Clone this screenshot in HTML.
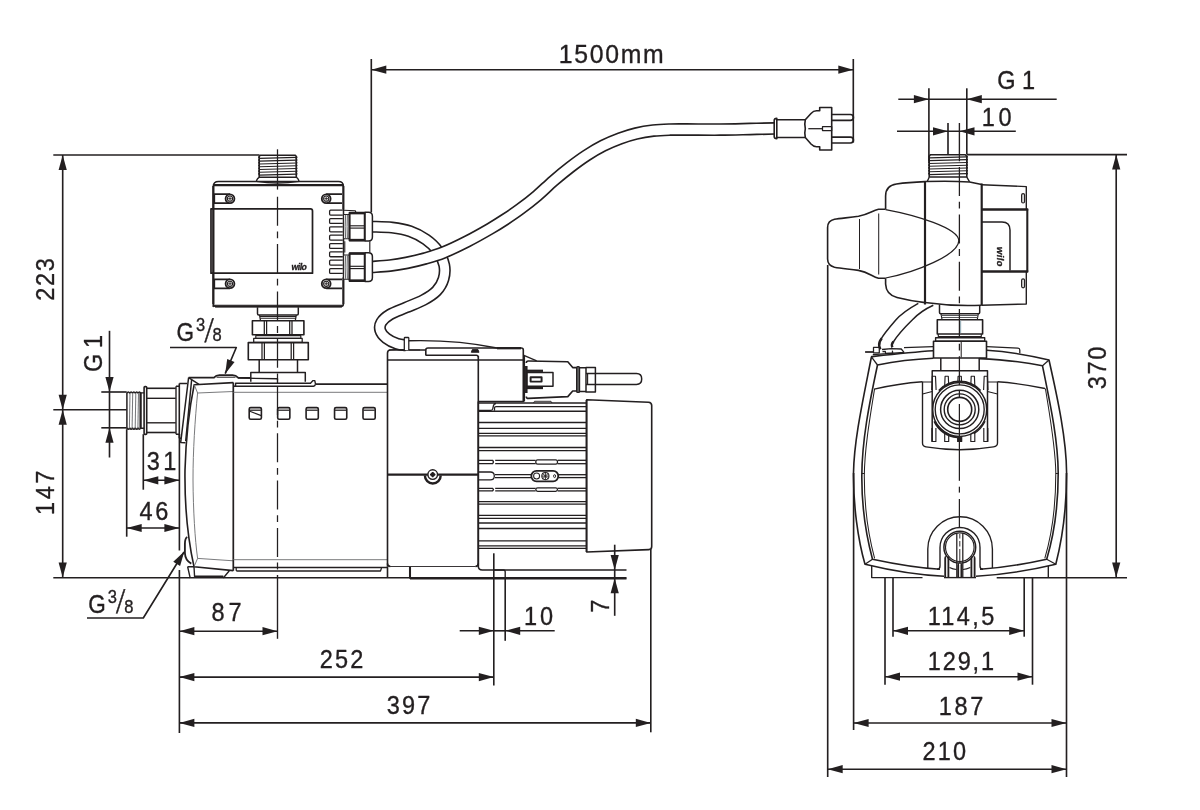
<!DOCTYPE html>
<html lang="en">
<head>
<meta charset="utf-8">
<title>Dimension drawing</title>
<style>
html,body{margin:0;padding:0;background:#fff;}
body{width:1200px;height:810px;overflow:hidden;}
svg{display:block;will-change:transform;}
.t{font-family:"Liberation Sans", sans-serif;fill:#231f20;}
.logo2{font-family:"Liberation Sans",sans-serif;font-weight:bold;font-style:italic;fill:#231f20;stroke:#231f20;stroke-width:0.35;}
.logo{font-family:"Liberation Sans",sans-serif;font-weight:bold;font-style:italic;fill:#231f20;}
</style>
</head>
<body>
<svg width="1200" height="810" viewBox="0 0 1200 810" stroke-linecap="butt" stroke-linejoin="round">
<rect x="0" y="0" width="1200" height="810" fill="#fff"/>
<line x1="371.30" y1="59.00" x2="371.30" y2="212.30" stroke="#231f20" stroke-width="1.63" />
<line x1="853.30" y1="59.00" x2="853.30" y2="142.50" stroke="#231f20" stroke-width="1.63" />
<line x1="371.30" y1="69.70" x2="853.30" y2="69.70" stroke="#231f20" stroke-width="1.63" />
<polygon points="371.30,69.70 386.30,65.60 386.30,73.80" fill="#231f20"/>
<polygon points="853.30,69.70 838.30,65.60 838.30,73.80" fill="#231f20"/>
<line x1="53.30" y1="155.00" x2="259.50" y2="155.00" stroke="#231f20" stroke-width="1.63" />
<line x1="62.70" y1="155.00" x2="62.70" y2="577.50" stroke="#231f20" stroke-width="1.63" />
<polygon points="62.70,155.00 58.60,170.00 66.80,170.00" fill="#231f20"/>
<polygon points="62.70,409.70 58.60,394.70 66.80,394.70" fill="#231f20"/>
<polygon points="62.70,409.70 58.60,424.70 66.80,424.70" fill="#231f20"/>
<polygon points="62.70,577.60 58.60,562.60 66.80,562.60" fill="#231f20"/>
<line x1="53.30" y1="409.70" x2="126.70" y2="409.70" stroke="#231f20" stroke-width="1.63" />
<line x1="53.30" y1="577.80" x2="626.50" y2="577.80" stroke="#231f20" stroke-width="1.61" />
<line x1="109.50" y1="330.80" x2="109.50" y2="457.50" stroke="#231f20" stroke-width="1.63" />
<line x1="101.30" y1="392.00" x2="126.70" y2="392.00" stroke="#231f20" stroke-width="1.63" />
<line x1="101.30" y1="427.80" x2="126.70" y2="427.80" stroke="#231f20" stroke-width="1.63" />
<polygon points="109.50,392.00 105.40,377.00 113.60,377.00" fill="#231f20"/>
<polygon points="109.50,427.80 105.40,442.80 113.60,442.80" fill="#231f20"/>
<line x1="143.30" y1="434.20" x2="143.30" y2="489.70" stroke="#231f20" stroke-width="1.63" />
<line x1="179.40" y1="434.00" x2="179.40" y2="550.50" stroke="#231f20" stroke-width="1.63" />
<line x1="179.40" y1="570.00" x2="179.40" y2="733.00" stroke="#231f20" stroke-width="1.63" />
<line x1="126.70" y1="429.20" x2="126.70" y2="536.70" stroke="#231f20" stroke-width="1.63" />
<line x1="143.30" y1="480.30" x2="179.40" y2="480.30" stroke="#231f20" stroke-width="1.63" />
<polygon points="143.30,480.30 158.30,476.20 158.30,484.40" fill="#231f20"/>
<polygon points="179.40,480.30 164.40,476.20 164.40,484.40" fill="#231f20"/>
<line x1="126.70" y1="528.00" x2="179.40" y2="528.00" stroke="#231f20" stroke-width="1.63" />
<polygon points="126.70,528.00 141.70,523.90 141.70,532.10" fill="#231f20"/>
<polygon points="179.40,528.00 164.40,523.90 164.40,532.10" fill="#231f20"/>
<path d="M170,347.5 L236.3,347.5 L225.2,373.6" stroke="#231f20" stroke-width="1.63" fill="none" />
<polygon points="225.20,373.80 227.19,358.89 234.56,362.02" fill="#231f20"/>
<path d="M87,618 L143.3,618 L184,552" stroke="#231f20" stroke-width="1.63" fill="none" />
<polygon points="184.30,551.50 180.09,565.94 173.28,561.74" fill="#231f20"/>
<line x1="179.40" y1="631.20" x2="277.50" y2="631.20" stroke="#231f20" stroke-width="1.63" />
<polygon points="179.40,631.20 194.40,627.10 194.40,635.30" fill="#231f20"/>
<polygon points="277.50,631.20 262.50,627.10 262.50,635.30" fill="#231f20"/>
<line x1="179.40" y1="677.10" x2="493.80" y2="677.10" stroke="#231f20" stroke-width="1.63" />
<polygon points="179.40,677.10 194.40,673.00 194.40,681.20" fill="#231f20"/>
<polygon points="493.80,677.10 478.80,673.00 478.80,681.20" fill="#231f20"/>
<line x1="179.40" y1="722.90" x2="650.80" y2="722.90" stroke="#231f20" stroke-width="1.63" />
<polygon points="179.40,722.90 194.40,718.80 194.40,727.00" fill="#231f20"/>
<polygon points="650.80,722.90 635.80,718.80 635.80,727.00" fill="#231f20"/>
<line x1="493.80" y1="553.30" x2="493.80" y2="685.50" stroke="#231f20" stroke-width="1.63" />
<line x1="505.20" y1="578.00" x2="505.20" y2="640.80" stroke="#231f20" stroke-width="1.63" />
<line x1="650.80" y1="549.00" x2="650.80" y2="732.30" stroke="#231f20" stroke-width="1.63" />
<line x1="459.70" y1="630.80" x2="493.80" y2="630.80" stroke="#231f20" stroke-width="1.63" />
<polygon points="493.80,630.80 478.80,626.70 478.80,634.90" fill="#231f20"/>
<line x1="505.20" y1="630.80" x2="554.70" y2="630.80" stroke="#231f20" stroke-width="1.63" />
<polygon points="505.20,630.80 520.20,626.70 520.20,634.90" fill="#231f20"/>
<line x1="493.80" y1="630.80" x2="505.20" y2="630.80" stroke="#231f20" stroke-width="1.63" />
<line x1="614.70" y1="544.70" x2="614.70" y2="570.00" stroke="#231f20" stroke-width="1.63" />
<line x1="614.70" y1="578.30" x2="614.70" y2="615.80" stroke="#231f20" stroke-width="1.63" />
<polygon points="614.70,570.00 610.60,555.00 618.80,555.00" fill="#231f20"/>
<polygon points="614.70,578.30 610.60,593.30 618.80,593.30" fill="#231f20"/>
<line x1="614.70" y1="570.00" x2="614.70" y2="578.30" stroke="#231f20" stroke-width="1.63" />
<line x1="928.90" y1="88.30" x2="928.90" y2="161.70" stroke="#231f20" stroke-width="1.63" />
<line x1="966.80" y1="88.30" x2="966.80" y2="154.50" stroke="#231f20" stroke-width="1.63" />
<line x1="898.30" y1="99.20" x2="1056.70" y2="99.20" stroke="#231f20" stroke-width="1.63" />
<polygon points="928.90,99.20 913.90,95.10 913.90,103.30" fill="#231f20"/>
<polygon points="966.80,99.20 981.80,95.10 981.80,103.30" fill="#231f20"/>
<line x1="948.00" y1="123.00" x2="948.00" y2="154.70" stroke="#231f20" stroke-width="1.63" />
<line x1="897.00" y1="131.30" x2="1015.80" y2="131.30" stroke="#231f20" stroke-width="1.63" />
<polygon points="948.00,131.30 933.00,127.20 933.00,135.40" fill="#231f20"/>
<polygon points="959.50,131.30 974.50,127.20 974.50,135.40" fill="#231f20"/>
<line x1="966.80" y1="154.60" x2="1127.00" y2="154.60" stroke="#231f20" stroke-width="1.63" />
<line x1="1116.20" y1="154.60" x2="1116.20" y2="577.60" stroke="#231f20" stroke-width="1.63" />
<polygon points="1116.20,154.60 1112.10,169.60 1120.30,169.60" fill="#231f20"/>
<polygon points="1116.20,577.60 1112.10,562.60 1120.30,562.60" fill="#231f20"/>
<line x1="996.70" y1="577.80" x2="1127.00" y2="577.80" stroke="#231f20" stroke-width="1.49" />
<line x1="827.70" y1="265.00" x2="827.70" y2="777.00" stroke="#231f20" stroke-width="1.63" />
<line x1="1066.50" y1="473.00" x2="1066.50" y2="777.00" stroke="#231f20" stroke-width="1.63" />
<line x1="853.60" y1="473.00" x2="853.60" y2="730.00" stroke="#231f20" stroke-width="1.63" />
<line x1="885.00" y1="577.60" x2="885.00" y2="684.70" stroke="#231f20" stroke-width="1.63" />
<line x1="1032.50" y1="577.60" x2="1032.50" y2="684.70" stroke="#231f20" stroke-width="1.63" />
<line x1="893.00" y1="577.60" x2="893.00" y2="636.70" stroke="#231f20" stroke-width="1.63" />
<line x1="1024.20" y1="577.60" x2="1024.20" y2="636.70" stroke="#231f20" stroke-width="1.63" />
<line x1="893.00" y1="630.80" x2="1024.20" y2="630.80" stroke="#231f20" stroke-width="1.63" />
<polygon points="893.00,630.80 908.00,626.70 908.00,634.90" fill="#231f20"/>
<polygon points="1024.20,630.80 1009.20,626.70 1009.20,634.90" fill="#231f20"/>
<line x1="885.00" y1="676.70" x2="1032.50" y2="676.70" stroke="#231f20" stroke-width="1.63" />
<polygon points="885.00,676.70 900.00,672.60 900.00,680.80" fill="#231f20"/>
<polygon points="1032.50,676.70 1017.50,672.60 1017.50,680.80" fill="#231f20"/>
<line x1="853.60" y1="723.00" x2="1066.50" y2="723.00" stroke="#231f20" stroke-width="1.63" />
<polygon points="853.60,723.00 868.60,718.90 868.60,727.10" fill="#231f20"/>
<polygon points="1066.50,723.00 1051.50,718.90 1051.50,727.10" fill="#231f20"/>
<line x1="827.70" y1="769.20" x2="1066.50" y2="769.20" stroke="#231f20" stroke-width="1.63" />
<polygon points="827.70,769.20 842.70,765.10 842.70,773.30" fill="#231f20"/>
<polygon points="1066.50,769.20 1051.50,765.10 1051.50,773.30" fill="#231f20"/>
<path d="M372.30,226.70 C375.58,226.85 385.72,226.83 392.00,227.60 C398.28,228.37 404.33,229.32 410.00,231.30 C415.67,233.28 421.42,236.30 426.00,239.50 C430.58,242.70 434.47,246.25 437.50,250.50 C440.53,254.75 443.20,260.25 444.20,265.00 C445.20,269.75 444.78,274.67 443.50,279.00 C442.22,283.33 439.83,287.50 436.50,291.00 C433.17,294.50 428.58,297.25 423.50,300.00 C418.42,302.75 411.58,305.08 406.00,307.50 C400.42,309.92 394.12,312.03 390.00,314.50 C385.88,316.97 382.92,319.63 381.30,322.30 C379.68,324.97 379.47,327.83 380.30,330.50 C381.13,333.17 383.52,336.08 386.30,338.30 C389.08,340.52 393.63,342.63 397.00,343.80 C400.37,344.97 404.92,345.05 406.50,345.30" stroke="#231f20" stroke-width="12.10" fill="none" stroke-linecap="butt"/>
<path d="M372.30,226.70 C375.58,226.85 385.72,226.83 392.00,227.60 C398.28,228.37 404.33,229.32 410.00,231.30 C415.67,233.28 421.42,236.30 426.00,239.50 C430.58,242.70 434.47,246.25 437.50,250.50 C440.53,254.75 443.20,260.25 444.20,265.00 C445.20,269.75 444.78,274.67 443.50,279.00 C442.22,283.33 439.83,287.50 436.50,291.00 C433.17,294.50 428.58,297.25 423.50,300.00 C418.42,302.75 411.58,305.08 406.00,307.50 C400.42,309.92 394.12,312.03 390.00,314.50 C385.88,316.97 382.92,319.63 381.30,322.30 C379.68,324.97 379.47,327.83 380.30,330.50 C381.13,333.17 383.52,336.08 386.30,338.30 C389.08,340.52 393.63,342.63 397.00,343.80 C400.37,344.97 404.92,345.05 406.50,345.30" stroke="#fff" stroke-width="8.90" fill="none" stroke-linecap="butt"/>
<path d="M372.30,266.90 C375.25,266.68 384.27,266.27 390.00,265.60 C395.73,264.93 400.87,264.08 406.70,262.90 C412.53,261.72 418.87,260.23 425.00,258.50 C431.13,256.77 436.50,255.33 443.50,252.50 C450.50,249.67 459.25,245.45 467.00,241.50 C474.75,237.55 483.67,232.47 490.00,228.80 C496.33,225.13 500.00,222.77 505.00,219.50 C510.00,216.23 514.67,213.15 520.00,209.20 C525.33,205.25 531.45,200.50 537.00,195.80 C542.55,191.10 547.80,185.75 553.30,181.00 C558.80,176.25 564.43,171.58 570.00,167.30 C575.57,163.02 581.20,158.88 586.70,155.30 C592.20,151.72 597.45,148.60 603.00,145.80 C608.55,143.00 614.50,140.53 620.00,138.50 C625.50,136.47 630.45,134.92 636.00,133.60 C641.55,132.28 647.63,131.27 653.30,130.60 C658.97,129.93 664.43,129.78 670.00,129.60 C675.57,129.42 678.37,129.50 686.70,129.50 C695.03,129.50 709.45,129.68 720.00,129.60 C730.55,129.52 740.92,129.20 750.00,129.00 C759.08,128.80 770.42,128.50 774.50,128.40" stroke="#231f20" stroke-width="12.85" fill="none" stroke-linecap="butt"/>
<path d="M372.30,266.90 C375.25,266.68 384.27,266.27 390.00,265.60 C395.73,264.93 400.87,264.08 406.70,262.90 C412.53,261.72 418.87,260.23 425.00,258.50 C431.13,256.77 436.50,255.33 443.50,252.50 C450.50,249.67 459.25,245.45 467.00,241.50 C474.75,237.55 483.67,232.47 490.00,228.80 C496.33,225.13 500.00,222.77 505.00,219.50 C510.00,216.23 514.67,213.15 520.00,209.20 C525.33,205.25 531.45,200.50 537.00,195.80 C542.55,191.10 547.80,185.75 553.30,181.00 C558.80,176.25 564.43,171.58 570.00,167.30 C575.57,163.02 581.20,158.88 586.70,155.30 C592.20,151.72 597.45,148.60 603.00,145.80 C608.55,143.00 614.50,140.53 620.00,138.50 C625.50,136.47 630.45,134.92 636.00,133.60 C641.55,132.28 647.63,131.27 653.30,130.60 C658.97,129.93 664.43,129.78 670.00,129.60 C675.57,129.42 678.37,129.50 686.70,129.50 C695.03,129.50 709.45,129.68 720.00,129.60 C730.55,129.52 740.92,129.20 750.00,129.00 C759.08,128.80 770.42,128.50 774.50,128.40" stroke="#fff" stroke-width="9.55" fill="none" stroke-linecap="butt"/>
<path d="M260.20,155.30 L295.30,155.30 L296.30,156.50 L296.30,177.20 L259.20,177.20 L259.20,156.50 Z" stroke="#231f20" stroke-width="1.61" fill="none" />
<line x1="259.40" y1="158.40" x2="296.30" y2="157.40" stroke="#231f20" stroke-width="1.15" />
<line x1="259.40" y1="161.18" x2="296.30" y2="160.18" stroke="#231f20" stroke-width="1.15" />
<line x1="259.40" y1="163.96" x2="296.30" y2="162.96" stroke="#231f20" stroke-width="1.15" />
<line x1="259.40" y1="166.74" x2="296.30" y2="165.74" stroke="#231f20" stroke-width="1.15" />
<line x1="259.40" y1="169.52" x2="296.30" y2="168.52" stroke="#231f20" stroke-width="1.15" />
<line x1="259.40" y1="172.30" x2="296.30" y2="171.30" stroke="#231f20" stroke-width="1.15" />
<line x1="259.40" y1="175.08" x2="296.30" y2="174.08" stroke="#231f20" stroke-width="1.15" />
<path d="M259.3,156.5 L258.6,157.20 L259.6,158.60 L258.6,159.98 L259.6,161.38 L258.6,162.76 L259.6,164.16 L258.6,165.54 L259.6,166.94 L258.6,168.32 L259.6,169.72 L258.6,171.10 L259.6,172.50 L258.6,173.88 L259.6,175.28" stroke="#231f20" stroke-width="1.03" fill="none" />
<path d="M296.3,156.5 L297,157.20 L296,158.60 L297,159.98 L296,161.38 L297,162.76 L296,164.16 L297,165.54 L296,166.94 L297,168.32 L296,169.72 L297,171.10 L296,172.50 L297,173.88 L296,175.28" stroke="#231f20" stroke-width="1.03" fill="none" />
<path d="M259.4,177.3 L257.6,178.6 Q256.6,180 256.4,181.4 Q277.5,184.6 299,181.4 Q298.8,180 297.8,178.6 L296.3,177.3" stroke="#231f20" stroke-width="1.38" fill="none" />
<path d="M213.2,306.6 L213.2,186.5 Q213.4,181.6 218.5,181.6 L338.5,181.6 Q343.4,181.6 343.5,186.5 L343.5,303.5 Q343.5,306.6 340.5,306.6 L216.2,306.6 Q213.2,306.6 213.2,303.5 Z" stroke="#231f20" stroke-width="1.49" fill="none" />
<line x1="213.40" y1="186.00" x2="213.40" y2="304.00" stroke="#231f20" stroke-width="2.18" />
<line x1="343.30" y1="186.00" x2="343.30" y2="209.50" stroke="#231f20" stroke-width="1.95" />
<line x1="343.30" y1="277.50" x2="343.30" y2="304.00" stroke="#231f20" stroke-width="1.95" />
<line x1="215.00" y1="306.50" x2="342.00" y2="306.50" stroke="#231f20" stroke-width="1.95" />
<line x1="213.50" y1="185.20" x2="343.30" y2="185.20" stroke="#231f20" stroke-width="2.30" />
<line x1="213.50" y1="305.20" x2="342.80" y2="305.20" stroke="#231f20" stroke-width="1.15" />
<path d="M312.5,273.2 L211,273.2 L211,208.9 L310.5,208.9 Q312.5,208.9 312.5,211 Z" stroke="#231f20" stroke-width="1.72" fill="none" />
<path d="M230,194.2 L214.3,194.2 L214.3,203.2 L230,203.2" stroke="#231f20" stroke-width="1.72" fill="none" />
<circle cx="230.00" cy="198.70" r="4.40" stroke="#231f20" stroke-width="1.84" fill="#fff"/>
<circle cx="230.00" cy="198.70" r="2.60" stroke="#231f20" stroke-width="1.03" fill="none"/>
<line x1="228.20" y1="198.70" x2="231.80" y2="198.70" stroke="#231f20" stroke-width="0.92" />
<line x1="230.00" y1="196.90" x2="230.00" y2="200.50" stroke="#231f20" stroke-width="0.92" />
<path d="M326.2,194.2 L342,194.2 M326.2,203.2 L342,203.2" stroke="#231f20" stroke-width="1.72" fill="none" />
<circle cx="326.20" cy="198.70" r="4.40" stroke="#231f20" stroke-width="1.84" fill="#fff"/>
<circle cx="326.20" cy="198.70" r="2.60" stroke="#231f20" stroke-width="1.03" fill="none"/>
<line x1="324.40" y1="198.70" x2="328.00" y2="198.70" stroke="#231f20" stroke-width="0.92" />
<line x1="326.20" y1="196.90" x2="326.20" y2="200.50" stroke="#231f20" stroke-width="0.92" />
<path d="M230,279.3 L214.3,279.3 L214.3,288.3 L230,288.3" stroke="#231f20" stroke-width="1.72" fill="none" />
<circle cx="230.00" cy="283.80" r="4.40" stroke="#231f20" stroke-width="1.84" fill="#fff"/>
<circle cx="230.00" cy="283.80" r="2.60" stroke="#231f20" stroke-width="1.03" fill="none"/>
<line x1="228.20" y1="283.80" x2="231.80" y2="283.80" stroke="#231f20" stroke-width="0.92" />
<line x1="230.00" y1="282.00" x2="230.00" y2="285.60" stroke="#231f20" stroke-width="0.92" />
<path d="M326.2,279.3 L342,279.3 M326.2,288.3 L342,288.3" stroke="#231f20" stroke-width="1.72" fill="none" />
<circle cx="326.20" cy="283.80" r="4.40" stroke="#231f20" stroke-width="1.84" fill="#fff"/>
<circle cx="326.20" cy="283.80" r="2.60" stroke="#231f20" stroke-width="1.03" fill="none"/>
<line x1="324.40" y1="283.80" x2="328.00" y2="283.80" stroke="#231f20" stroke-width="0.92" />
<line x1="326.20" y1="282.00" x2="326.20" y2="285.60" stroke="#231f20" stroke-width="0.92" />
<path d="M342.8,210.20 L330.6,210.20 Q329.6,210.20 329.6,211.20 L329.6,214.10 Q329.6,215.10 330.6,215.10 L342.8,215.10" stroke="#231f20" stroke-width="1.26" fill="none" />
<path d="M342.8,218.53 L330.6,218.53 Q329.6,218.53 329.6,219.53 L329.6,222.43 Q329.6,223.43 330.6,223.43 L342.8,223.43" stroke="#231f20" stroke-width="1.26" fill="none" />
<path d="M342.8,226.86 L330.6,226.86 Q329.6,226.86 329.6,227.86 L329.6,230.76 Q329.6,231.76 330.6,231.76 L342.8,231.76" stroke="#231f20" stroke-width="1.26" fill="none" />
<path d="M342.8,235.19 L330.6,235.19 Q329.6,235.19 329.6,236.19 L329.6,239.09 Q329.6,240.09 330.6,240.09 L342.8,240.09" stroke="#231f20" stroke-width="1.26" fill="none" />
<path d="M342.8,243.52 L330.6,243.52 Q329.6,243.52 329.6,244.52 L329.6,247.42 Q329.6,248.42 330.6,248.42 L342.8,248.42" stroke="#231f20" stroke-width="1.26" fill="none" />
<path d="M342.8,251.85 L330.6,251.85 Q329.6,251.85 329.6,252.85 L329.6,255.75 Q329.6,256.75 330.6,256.75 L342.8,256.75" stroke="#231f20" stroke-width="1.26" fill="none" />
<path d="M342.8,260.18 L330.6,260.18 Q329.6,260.18 329.6,261.18 L329.6,264.08 Q329.6,265.08 330.6,265.08 L342.8,265.08" stroke="#231f20" stroke-width="1.26" fill="none" />
<path d="M342.8,268.51 L330.6,268.51 Q329.6,268.51 329.6,269.51 L329.6,272.41 Q329.6,273.41 330.6,273.41 L342.8,273.41" stroke="#231f20" stroke-width="1.26" fill="none" />
<text class="logo2" x="291.50" y="270.00" font-size="8.6" text-anchor="start" textLength="15.3" lengthAdjust="spacing" >wilo</text>
<rect x="343.60" y="214.40" width="5.60" height="24.40" rx="0" stroke="#231f20" stroke-width="1.03" fill="#fff" />
<path d="M345.6,214.79999999999998 Q344.8,226.6 345.6,238.39999999999998 M347.4,214.79999999999998 Q346.8,226.6 347.4,238.39999999999998" stroke="#58595b" stroke-width="0.92" fill="none" />
<path d="M364.7,212.2 L368.5,212.2 Q372.4,212.2 372.4,216.2 L372.4,237.0 Q372.4,241.0 368.5,241.0 L364.7,241.0" stroke="#231f20" stroke-width="1.49" fill="#fff" />
<rect x="349.50" y="212.40" width="15.20" height="28.40" rx="0" stroke="#231f20" stroke-width="1.49" fill="#fff" />
<line x1="349.40" y1="213.20" x2="365.20" y2="213.20" stroke="#231f20" stroke-width="2.30" />
<line x1="349.40" y1="240.00" x2="365.20" y2="240.00" stroke="#231f20" stroke-width="2.30" />
<line x1="350.00" y1="225.80" x2="364.50" y2="225.80" stroke="#231f20" stroke-width="1.15" />
<line x1="350.00" y1="228.10" x2="364.50" y2="228.10" stroke="#231f20" stroke-width="1.15" />
<line x1="364.70" y1="212.50" x2="364.70" y2="240.70" stroke="#231f20" stroke-width="1.84" />
<line x1="349.60" y1="212.50" x2="349.60" y2="240.70" stroke="#231f20" stroke-width="1.72" />
<rect x="343.60" y="254.90" width="5.60" height="24.40" rx="0" stroke="#231f20" stroke-width="1.03" fill="#fff" />
<path d="M345.6,255.29999999999998 Q344.8,267.09999999999997 345.6,278.9 M347.4,255.29999999999998 Q346.8,267.09999999999997 347.4,278.9" stroke="#58595b" stroke-width="0.92" fill="none" />
<path d="M364.7,252.7 L368.5,252.7 Q372.4,252.7 372.4,256.7 L372.4,277.5 Q372.4,281.5 368.5,281.5 L364.7,281.5" stroke="#231f20" stroke-width="1.49" fill="#fff" />
<rect x="349.50" y="252.90" width="15.20" height="28.40" rx="0" stroke="#231f20" stroke-width="1.49" fill="#fff" />
<line x1="349.40" y1="253.70" x2="365.20" y2="253.70" stroke="#231f20" stroke-width="2.30" />
<line x1="349.40" y1="280.50" x2="365.20" y2="280.50" stroke="#231f20" stroke-width="2.30" />
<line x1="350.00" y1="266.30" x2="364.50" y2="266.30" stroke="#231f20" stroke-width="1.15" />
<line x1="350.00" y1="268.60" x2="364.50" y2="268.60" stroke="#231f20" stroke-width="1.15" />
<line x1="364.70" y1="253.00" x2="364.70" y2="281.20" stroke="#231f20" stroke-width="1.84" />
<line x1="349.60" y1="253.00" x2="349.60" y2="281.20" stroke="#231f20" stroke-width="1.72" />
<path d="M343.8,210.3 L355.3,210.8 L355.8,212.3" stroke="#231f20" stroke-width="1.15" fill="none" />
<line x1="369.80" y1="241.20" x2="369.80" y2="252.50" stroke="#231f20" stroke-width="1.15" />
<line x1="344.80" y1="241.20" x2="344.80" y2="252.50" stroke="#231f20" stroke-width="1.03" />
<path d="M257.5,307.2 L257.5,313.8 Q257.5,315 258.8,315 L297,315 Q298.3,315 298.3,313.8 L298.3,307.2" stroke="#231f20" stroke-width="1.49" fill="none" />
<path d="M259.5,315 L260.5,320.6 M296.3,315 L295.3,320.6" stroke="#231f20" stroke-width="1.26" fill="none" />
<line x1="260.00" y1="316.60" x2="296.00" y2="316.60" stroke="#231f20" stroke-width="1.03" />
<line x1="260.30" y1="318.30" x2="295.70" y2="318.30" stroke="#231f20" stroke-width="1.03" />
<rect x="252.40" y="320.80" width="51.50" height="13.90" rx="0" stroke="#231f20" stroke-width="1.61" fill="none" />
<line x1="264.30" y1="321.00" x2="264.30" y2="334.50" stroke="#231f20" stroke-width="1.26" />
<line x1="266.60" y1="321.00" x2="266.60" y2="334.50" stroke="#231f20" stroke-width="1.26" />
<line x1="289.70" y1="321.00" x2="289.70" y2="334.50" stroke="#231f20" stroke-width="1.26" />
<line x1="292.00" y1="321.00" x2="292.00" y2="334.50" stroke="#231f20" stroke-width="1.26" />
<rect x="255.80" y="335.60" width="45.00" height="2.80" rx="0" stroke="#231f20" stroke-width="1.15" fill="none" />
<rect x="253.70" y="338.40" width="48.50" height="3.90" rx="0" stroke="#231f20" stroke-width="1.26" fill="none" />
<rect x="248.30" y="342.60" width="60.00" height="17.10" rx="0" stroke="#231f20" stroke-width="1.61" fill="none" />
<line x1="262.00" y1="343.00" x2="262.00" y2="359.50" stroke="#231f20" stroke-width="1.26" />
<line x1="264.40" y1="343.00" x2="264.40" y2="359.50" stroke="#231f20" stroke-width="1.26" />
<line x1="291.20" y1="343.00" x2="291.20" y2="359.50" stroke="#231f20" stroke-width="1.26" />
<line x1="293.60" y1="343.00" x2="293.60" y2="359.50" stroke="#231f20" stroke-width="1.26" />
<line x1="259.20" y1="359.70" x2="259.20" y2="372.30" stroke="#231f20" stroke-width="1.49" />
<line x1="297.50" y1="359.70" x2="297.50" y2="372.30" stroke="#231f20" stroke-width="1.49" />
<path d="M250.8,381.7 L250.8,372.5 L305.3,372.5 L305.3,381.7" stroke="#231f20" stroke-width="1.49" fill="none" />
<path d="M776.5,119.8 L805.3,119.8 M776.5,137.5 L805.3,137.5" stroke="#231f20" stroke-width="1.61" fill="none" />
<path d="M776.8,118.4 Q774.2,118.4 774.2,120.5 L774.2,136.6 Q774.2,138.8 776.8,138.8 Z" stroke="#231f20" stroke-width="1.61" fill="#fff" />
<path d="M805.3,119.8 L811,113.5 Q813.5,110.8 816.5,110.8 L819.7,110.8 L819.7,107.5 L831.7,107.5 L831.7,150 L819.7,150 L819.7,146.7 L816.5,146.7 Q813.5,146.7 811,144 L805.3,137.5 Q804.3,133 805.3,128.6 Q804.3,124 805.3,119.8" stroke="#231f20" stroke-width="1.61" fill="none" />
<path d="M831.7,114.5 L850.4,114.5 Q853.4,114.5 853.4,117.4 Q853.4,120.3 850.4,120.3 L831.7,120.3" stroke="#231f20" stroke-width="1.72" fill="none" />
<path d="M831.7,137.2 L850.4,137.2 Q853.4,137.2 853.4,140.1 Q853.4,143 850.4,143 L831.7,143" stroke="#231f20" stroke-width="1.72" fill="none" />
<line x1="808.30" y1="128.70" x2="822.50" y2="128.70" stroke="#231f20" stroke-width="1.26" />
<rect x="822.50" y="126.70" width="9.20" height="3.90" rx="0" stroke="#231f20" stroke-width="1.26" fill="none" />
<path d="M126.9,393.2 Q128.30,390.9 129.70,393.2 Q131.10,390.9 132.50,393.2 Q133.90,390.9 135.30,393.2 Q136.70,390.9 138.10,393.2 Q139.40,390.9 140.70,393.2" stroke="#231f20" stroke-width="1.49" fill="none" />
<path d="M126.9,428.0 Q128.30,430.3 129.70,428.0 Q131.10,430.3 132.50,428.0 Q133.90,430.3 135.30,428.0 Q136.70,430.3 138.10,428.0 Q139.40,430.3 140.70,428.0" stroke="#231f20" stroke-width="1.49" fill="none" />
<line x1="126.90" y1="392.70" x2="126.90" y2="428.50" stroke="#231f20" stroke-width="1.49" />
<line x1="140.60" y1="392.70" x2="140.60" y2="428.50" stroke="#231f20" stroke-width="2.30" />
<line x1="130.00" y1="393.00" x2="129.40" y2="428.20" stroke="#77787b" stroke-width="1.03" />
<line x1="132.70" y1="393.00" x2="132.10" y2="428.20" stroke="#77787b" stroke-width="1.03" />
<line x1="135.80" y1="393.00" x2="135.20" y2="428.20" stroke="#77787b" stroke-width="1.03" />
<line x1="138.50" y1="393.00" x2="137.90" y2="428.20" stroke="#77787b" stroke-width="1.03" />
<path d="M140.6,392.9 L144.1,392.9 M140.6,428.3 L144.1,428.3" stroke="#231f20" stroke-width="1.38" fill="none" />
<path d="M144.1,433.4 L144.1,387.6 Q144.1,386.6 145,386.6 L145.8,386.6 Q146.7,386.6 146.7,387.6 L146.7,433.4 Q146.7,434.4 145.8,434.4 L145,434.4 Q144.1,434.4 144.1,433.4 Z" stroke="#231f20" stroke-width="1.61" fill="none" />
<line x1="147.00" y1="388.30" x2="175.80" y2="388.30" stroke="#231f20" stroke-width="1.61" />
<line x1="147.00" y1="432.50" x2="175.80" y2="432.50" stroke="#231f20" stroke-width="1.61" />
<line x1="147.00" y1="398.30" x2="175.80" y2="398.30" stroke="#231f20" stroke-width="1.38" />
<line x1="147.00" y1="422.80" x2="175.80" y2="422.80" stroke="#231f20" stroke-width="1.38" />
<path d="M176,386.3 L179.2,386.3 M176,434.2 L179.2,434.2 M176,386.3 L176,434.2" stroke="#231f20" stroke-width="1.38" fill="none" />
<line x1="179.30" y1="383.50" x2="179.30" y2="438.30" stroke="#231f20" stroke-width="1.61" />
<path d="M179.3,383.5 L187,383.5 M179.3,438.3 L181.2,438.3" stroke="#231f20" stroke-width="1.38" fill="none" />
<path d="M188.6,377.6 L180.7,442.4 L185.4,442.8 M191.6,380 L185.7,441" stroke="#231f20" stroke-width="1.49" fill="none" />
<path d="M233.3,382.6 L194.2,384.7 C190,405 186,435 185,470 C184.6,500 187,535 194,566.7 L233.3,570.6" stroke="#231f20" stroke-width="1.61" fill="none" />
<path d="M233.3,391.5 L197.6,393 C195,420 193,450 193,480 C193.2,510 195,540 197.6,558.4 L233.3,560.8" stroke="#6d6e70" stroke-width="0.92" fill="none" />
<line x1="194.20" y1="384.70" x2="197.60" y2="393.00" stroke="#6d6e70" stroke-width="0.92" />
<line x1="194.00" y1="566.70" x2="197.60" y2="558.40" stroke="#6d6e70" stroke-width="0.92" />
<line x1="233.30" y1="382.50" x2="233.30" y2="570.80" stroke="#231f20" stroke-width="1.72" />
<path d="M188.6,377.6 L214,377.6 Q216,375.1 219.5,375.1 L232.5,375.1 Q236,375.1 238,377.6 L250.6,377.9" stroke="#231f20" stroke-width="1.72" fill="none" />
<path d="M216.5,377.2 L235.5,377.2" stroke="#231f20" stroke-width="1.03" fill="none" />
<path d="M188.6,377.6 L199,384.3 M238,378 L277.5,378.8 L277.5,383" stroke="#231f20" stroke-width="1.38" fill="none" />
<path d="M187.3,537 Q184.9,538.2 184.9,544 L184.9,553 Q185.2,560.5 191.3,563.6" stroke="#231f20" stroke-width="1.84" fill="none" />
<path d="M187.6,566.7 L190.2,578 M194,566.7 L194.6,577 M187.6,566.7 L194,566.7 M194.6,576.2 L223.3,576.2 M223.3,578 L229.3,570.8" stroke="#231f20" stroke-width="1.38" fill="none" />
<line x1="315.50" y1="384.10" x2="387.50" y2="384.10" stroke="#231f20" stroke-width="1.61" />
<line x1="233.30" y1="386.20" x2="236.00" y2="386.20" stroke="#231f20" stroke-width="1.61" />
<line x1="233.30" y1="392.30" x2="387.50" y2="392.30" stroke="#6d6e70" stroke-width="0.92" />
<line x1="233.30" y1="559.70" x2="387.50" y2="559.70" stroke="#6d6e70" stroke-width="0.92" />
<line x1="233.30" y1="567.50" x2="387.50" y2="567.50" stroke="#231f20" stroke-width="1.61" />
<path d="M236.2,567.5 L236.2,570.3 Q236.2,571 237.2,571 L380.5,571 L381.5,568" stroke="#231f20" stroke-width="1.26" fill="none" />
<path d="M315.5,384.2 L314.8,380.6 L313,380.6 L310.5,383.2 L235.6,383.2 L235.6,386.2 L313.5,386.2 Q315,386 315.5,384.2" stroke="#231f20" stroke-width="1.38" fill="none" />
<rect x="249.20" y="407.60" width="12.20" height="11.60" rx="1.5" stroke="#231f20" stroke-width="1.61" fill="none" />
<line x1="249.70" y1="410.20" x2="260.90" y2="410.20" stroke="#231f20" stroke-width="1.26" />
<rect x="277.65" y="407.60" width="12.20" height="11.60" rx="1.5" stroke="#231f20" stroke-width="1.61" fill="none" />
<line x1="278.15" y1="410.20" x2="289.35" y2="410.20" stroke="#231f20" stroke-width="1.26" />
<rect x="306.10" y="407.60" width="12.20" height="11.60" rx="1.5" stroke="#231f20" stroke-width="1.61" fill="none" />
<line x1="306.60" y1="410.20" x2="317.80" y2="410.20" stroke="#231f20" stroke-width="1.26" />
<rect x="334.55" y="407.60" width="12.20" height="11.60" rx="1.5" stroke="#231f20" stroke-width="1.61" fill="none" />
<line x1="335.05" y1="410.20" x2="346.25" y2="410.20" stroke="#231f20" stroke-width="1.26" />
<rect x="363.00" y="407.60" width="12.20" height="11.60" rx="1.5" stroke="#231f20" stroke-width="1.61" fill="none" />
<line x1="363.50" y1="410.20" x2="374.70" y2="410.20" stroke="#231f20" stroke-width="1.26" />
<line x1="249.80" y1="411.20" x2="261.20" y2="415.60" stroke="#231f20" stroke-width="1.15" />
<path d="M387.5,566.3 L387.5,353 Q387.5,350 390.5,350 L425.8,350" stroke="#231f20" stroke-width="1.61" fill="none" />
<line x1="387.50" y1="360.00" x2="478.30" y2="360.00" stroke="#231f20" stroke-width="1.49" />
<path d="M478.3,356 L478.3,563.5 Q478.3,566.4 475.5,566.4 M390.3,566.4 Q387.5,566.4 387.5,563.5" stroke="#231f20" stroke-width="1.61" fill="none" />
<line x1="390.00" y1="566.50" x2="475.80" y2="566.50" stroke="#3a3638" stroke-width="1.09" />
<line x1="387.50" y1="474.60" x2="478.30" y2="474.60" stroke="#231f20" stroke-width="2.30" />
<path d="M424.9,475.6 A7.9,7.9 0 0 0 440.7,475.6" stroke="#231f20" stroke-width="2.42" fill="none" />
<circle cx="432.70" cy="474.60" r="4.80" stroke="#231f20" stroke-width="1.38" fill="#fff"/>
<circle cx="432.70" cy="474.60" r="2.00" stroke="#231f20" stroke-width="0.69" fill="#231f20"/>
<line x1="430.00" y1="474.60" x2="435.40" y2="474.60" stroke="#231f20" stroke-width="1.38" />
<line x1="432.70" y1="471.90" x2="432.70" y2="477.30" stroke="#231f20" stroke-width="1.38" />
<path d="M387.5,566.3 L387.5,578 M478.3,563.5 L478.3,566 Q478.3,570 482.3,570 L626.5,570" stroke="#231f20" stroke-width="1.61" fill="none" />
<line x1="410.00" y1="567.00" x2="410.00" y2="578.60" stroke="#231f20" stroke-width="2.07" />
<line x1="410.00" y1="578.70" x2="626.50" y2="578.70" stroke="#231f20" stroke-width="1.72" />
<path d="M493.8,570 L503.5,570 Q505.2,570 505.2,572 L505.2,578" stroke="#231f20" stroke-width="1.38" fill="none" />
<path d="M425.8,355.4 L425.8,350 Q425.8,348 428,348 L521.3,348 Q523.3,348 523.3,350 L523.3,401.5 L478.3,401.5" stroke="#231f20" stroke-width="1.61" fill="none" />
<path d="M425.8,355.2 L476.3,355.2 Q478.3,355.2 478.3,357.2" stroke="#231f20" stroke-width="1.38" fill="none" />
<line x1="478.30" y1="360.00" x2="523.30" y2="360.00" stroke="#231f20" stroke-width="1.49" />
<line x1="497.00" y1="348.20" x2="521.00" y2="348.20" stroke="#231f20" stroke-width="2.30" />
<path d="M471.3,352.3 L472.3,349.6 L478,349.6 L479,352.3 Z" stroke="#231f20" stroke-width="0.92" fill="#231f20" />
<path d="M404.3,350 L404.3,338.2 Q404.3,337.5 405,337.5 L408,337.5 Q408.8,337.5 408.8,338.2 L408.8,350" stroke="#231f20" stroke-width="1.26" fill="#fff" />
<path d="M408.8,340.8 C440,340 470,342.5 497,348" stroke="#231f20" stroke-width="1.38" fill="none" />
<path d="M523.3,355.2 L536.7,360.8" stroke="#231f20" stroke-width="1.38" fill="none" />
<path d="M389,350 C396,349 402,349.8 404.3,350 M408.8,350 L420,350" stroke="#231f20" stroke-width="1.15" fill="none" />
<path d="M526.3,363 Q526.3,361 528.3,361 L567.8,361.8 L572.7,367.6 L576.5,367.6 M576.5,391 L572.7,391 L567.8,396.6 L528.3,398.4 Q526.3,398.4 526.3,396.4" stroke="#231f20" stroke-width="1.61" fill="none" />
<line x1="524.50" y1="356.00" x2="524.50" y2="401.50" stroke="#231f20" stroke-width="1.15" />
<rect x="576.70" y="366.60" width="2.80" height="25.80" rx="1" stroke="#231f20" stroke-width="1.38" fill="#6b6b6b" />
<path d="M579.5,367.7 L586,367.7 M579.5,391.5 L586,391.5" stroke="#231f20" stroke-width="1.38" fill="none" />
<rect x="586.00" y="367.60" width="9.40" height="24.40" rx="0" stroke="#231f20" stroke-width="1.49" fill="none" />
<line x1="587.60" y1="373.50" x2="587.60" y2="384.50" stroke="#231f20" stroke-width="1.15" />
<path d="M586,373.6 L636.5,373.6 Q641.7,373.6 641.7,379 Q641.7,384.4 636.5,384.4 L586,384.4" stroke="#231f20" stroke-width="1.49" fill="none" />
<rect x="526.80" y="372.50" width="26.20" height="13.80" rx="0" stroke="#231f20" stroke-width="1.49" fill="none" />
<rect x="530.60" y="377.20" width="11.00" height="4.40" rx="0" stroke="#231f20" stroke-width="1.95" fill="none" />
<line x1="526.50" y1="370.80" x2="543.00" y2="370.80" stroke="#231f20" stroke-width="2.30" />
<line x1="526.50" y1="388.00" x2="543.00" y2="388.00" stroke="#231f20" stroke-width="2.30" />
<line x1="526.30" y1="366.00" x2="526.30" y2="393.00" stroke="#231f20" stroke-width="2.53" />
<line x1="478.30" y1="401.50" x2="478.30" y2="566.00" stroke="#231f20" stroke-width="1.61" />
<line x1="586.40" y1="400.00" x2="586.40" y2="552.00" stroke="#231f20" stroke-width="1.61" />
<line x1="478.30" y1="403.00" x2="586.40" y2="403.00" stroke="#231f20" stroke-width="1.61" />
<path d="M478.3,410.3 L491,410.3 Q492.5,410.3 492.8,408.5 L493.5,405.5 Q494,403.5 496,403.5" stroke="#231f20" stroke-width="1.26" fill="none" />
<path d="M494.5,410.8 L494.5,408 Q494.5,406.7 496,406.7 L586.4,406.7" stroke="#231f20" stroke-width="1.26" fill="none" />
<line x1="478.30" y1="411.30" x2="586.40" y2="411.30" stroke="#231f20" stroke-width="1.38" />
<path d="M533.5,403 L534.5,401.3 L551,401.3 L552,403" stroke="#231f20" stroke-width="0.92" fill="none" />
<line x1="478.30" y1="422.50" x2="586.40" y2="422.50" stroke="#231f20" stroke-width="1.26" />
<line x1="478.30" y1="428.30" x2="586.40" y2="428.30" stroke="#231f20" stroke-width="1.26" />
<line x1="478.30" y1="433.30" x2="586.40" y2="433.30" stroke="#231f20" stroke-width="1.26" />
<line x1="478.30" y1="435.80" x2="586.40" y2="435.80" stroke="#231f20" stroke-width="1.26" />
<line x1="478.30" y1="447.50" x2="586.40" y2="447.50" stroke="#231f20" stroke-width="1.26" />
<line x1="478.30" y1="450.60" x2="586.40" y2="450.60" stroke="#231f20" stroke-width="1.26" />
<line x1="478.30" y1="501.70" x2="586.40" y2="501.70" stroke="#231f20" stroke-width="1.26" />
<line x1="478.30" y1="504.20" x2="586.40" y2="504.20" stroke="#231f20" stroke-width="1.26" />
<line x1="478.30" y1="515.30" x2="586.40" y2="515.30" stroke="#231f20" stroke-width="1.26" />
<line x1="478.30" y1="518.30" x2="586.40" y2="518.30" stroke="#231f20" stroke-width="1.26" />
<line x1="478.30" y1="523.00" x2="586.40" y2="523.00" stroke="#231f20" stroke-width="1.26" />
<line x1="478.30" y1="528.50" x2="586.40" y2="528.50" stroke="#231f20" stroke-width="1.26" />
<line x1="478.30" y1="540.80" x2="586.40" y2="540.80" stroke="#231f20" stroke-width="1.26" />
<line x1="478.30" y1="545.80" x2="586.40" y2="545.80" stroke="#231f20" stroke-width="1.26" />
<line x1="478.30" y1="548.30" x2="586.40" y2="548.30" stroke="#231f20" stroke-width="1.26" />
<path d="M478.3,460.3 L492.5,460.3 Q494.3,462.0 492.5,463.7 L478.3,463.7" stroke="#231f20" stroke-width="1.32" fill="none" />
<line x1="495.20" y1="460.30" x2="535.60" y2="460.30" stroke="#231f20" stroke-width="1.32" />
<line x1="495.20" y1="463.70" x2="535.60" y2="463.70" stroke="#231f20" stroke-width="1.32" />
<rect x="535.80" y="459.90" width="21.70" height="4.20" rx="1.9" stroke="#231f20" stroke-width="1.26" fill="none" />
<line x1="557.80" y1="460.30" x2="586.40" y2="460.30" stroke="#231f20" stroke-width="1.32" />
<line x1="557.80" y1="463.70" x2="586.40" y2="463.70" stroke="#231f20" stroke-width="1.32" />
<path d="M478.3,488.3 L492.5,488.3 Q494.3,489.6 492.5,490.9 L478.3,490.9" stroke="#231f20" stroke-width="1.32" fill="none" />
<line x1="495.20" y1="488.30" x2="535.60" y2="488.30" stroke="#231f20" stroke-width="1.32" />
<line x1="495.20" y1="490.90" x2="535.60" y2="490.90" stroke="#231f20" stroke-width="1.32" />
<rect x="535.80" y="487.90" width="21.70" height="3.40" rx="1.9" stroke="#231f20" stroke-width="1.26" fill="none" />
<line x1="557.80" y1="488.30" x2="586.40" y2="488.30" stroke="#231f20" stroke-width="1.32" />
<line x1="557.80" y1="490.90" x2="586.40" y2="490.90" stroke="#231f20" stroke-width="1.32" />
<line x1="495.00" y1="474.70" x2="531.00" y2="474.70" stroke="#231f20" stroke-width="1.32" />
<line x1="495.00" y1="477.60" x2="531.00" y2="477.60" stroke="#231f20" stroke-width="1.32" />
<line x1="558.50" y1="474.70" x2="586.40" y2="474.70" stroke="#231f20" stroke-width="1.32" />
<line x1="558.50" y1="477.60" x2="586.40" y2="477.60" stroke="#231f20" stroke-width="1.32" />
<path d="M478.3,472 L490.3,472 Q494.3,472 494.3,475.9 Q494.3,479.8 490.3,479.8 L478.3,479.8" stroke="#231f20" stroke-width="1.26" fill="none" />
<rect x="531.30" y="470.80" width="27.00" height="10.50" rx="5.2" stroke="#231f20" stroke-width="1.84" fill="none" />
<circle cx="536.60" cy="476.10" r="3.00" stroke="#231f20" stroke-width="1.03" fill="none"/>
<circle cx="545.40" cy="476.10" r="3.60" stroke="#231f20" stroke-width="1.03" fill="none"/>
<line x1="542.60" y1="473.40" x2="548.20" y2="478.80" stroke="#231f20" stroke-width="0.92" />
<line x1="548.20" y1="473.40" x2="542.60" y2="478.80" stroke="#231f20" stroke-width="0.92" />
<line x1="545.40" y1="472.40" x2="545.40" y2="479.80" stroke="#231f20" stroke-width="0.92" />
<line x1="541.80" y1="476.10" x2="549.00" y2="476.10" stroke="#231f20" stroke-width="0.92" />
<ellipse cx="554.60" cy="476.10" rx="1.00" ry="1.50" stroke="#231f20" stroke-width="0.92" fill="none"/>
<path d="M586.7,399.7 L648.5,402.2 Q651.7,402.4 651.7,405.5 L651.7,546.5 Q651.7,549.5 648.8,549.6 L586.7,552 Z" stroke="#231f20" stroke-width="1.61" fill="none" />
<path d="M930.40,154.70 L965.30,154.70 L966.80,156.20 L966.80,177.00 L929.20,177.00 L929.20,156.20 Z" stroke="#231f20" stroke-width="1.61" fill="none" />
<line x1="929.20" y1="157.90" x2="966.80" y2="156.90" stroke="#231f20" stroke-width="1.15" />
<line x1="929.20" y1="160.68" x2="966.80" y2="159.68" stroke="#231f20" stroke-width="1.15" />
<line x1="929.20" y1="163.46" x2="966.80" y2="162.46" stroke="#231f20" stroke-width="1.15" />
<line x1="929.20" y1="166.24" x2="966.80" y2="165.24" stroke="#231f20" stroke-width="1.15" />
<line x1="929.20" y1="169.02" x2="966.80" y2="168.02" stroke="#231f20" stroke-width="1.15" />
<line x1="929.20" y1="171.80" x2="966.80" y2="170.80" stroke="#231f20" stroke-width="1.15" />
<line x1="929.20" y1="174.58" x2="966.80" y2="173.58" stroke="#231f20" stroke-width="1.15" />
<path d="M929.2,156.2 L928.5,156.80 L929.5,158.20 L928.5,159.58 L929.5,160.98 L928.5,162.36 L929.5,163.76 L928.5,165.14 L929.5,166.54 L928.5,167.92 L929.5,169.32 L928.5,170.70 L929.5,172.10 L928.5,173.48 L929.5,174.88" stroke="#231f20" stroke-width="1.03" fill="none" />
<path d="M966.8,156.2 L967.5,156.80 L966.5,158.20 L967.5,159.58 L966.5,160.98 L967.5,162.36 L966.5,163.76 L967.5,165.14 L966.5,166.54 L967.5,167.92 L966.5,169.32 L967.5,170.70 L966.5,172.10 L967.5,173.48 L966.5,174.88" stroke="#231f20" stroke-width="1.03" fill="none" />
<path d="M929.2,177.2 L927.2,181.5 M966.8,177.2 L969.6,181.8" stroke="#231f20" stroke-width="1.38" fill="none" />
<line x1="925.00" y1="181.50" x2="925.00" y2="304.50" stroke="#231f20" stroke-width="2.18" />
<line x1="981.70" y1="183.50" x2="981.70" y2="305.30" stroke="#231f20" stroke-width="2.18" />
<path d="M925,181.6 Q948,180.6 969.6,181.9 L981.7,184.6" stroke="#231f20" stroke-width="1.49" fill="none" />
<path d="M925,181.6 Q908,182.3 896.5,184 Q885.6,185.6 885.6,196 L885.6,209.3" stroke="#231f20" stroke-width="1.61" fill="none" />
<path d="M885.6,278.3 L885.6,284 Q886,294.5 897,297.6 Q910,301 925,302.6" stroke="#231f20" stroke-width="1.61" fill="none" />
<path d="M925,302.6 Q953,306.6 981.7,305.3" stroke="#231f20" stroke-width="1.49" fill="none" />
<path d="M885.6,209.3 L878.5,209.3 C872,210.8 868.5,214.6 858.5,216.3 C848,217.8 840,218.2 834.5,219.3 Q827.6,220.8 827.6,227.5 L827.6,259 Q827.6,265.5 834.5,267.2 C842,268.7 850,269 858.5,270.4 C868.5,272 872,276.5 878.5,278.3 L885.6,278.3" stroke="#231f20" stroke-width="1.61" fill="none" />
<line x1="859.50" y1="219.00" x2="859.50" y2="269.00" stroke="#231f20" stroke-width="1.03" />
<line x1="878.70" y1="213.50" x2="878.70" y2="274.50" stroke="#231f20" stroke-width="1.03" />
<path d="M885.6,209.6 C915,215 958.8,228 958.8,240.8 C958.8,255 915,272.5 885.6,278" stroke="#231f20" stroke-width="1.26" fill="none" />
<path d="M981.7,184.8 L1026.3,186.6 L1026.3,210" stroke="#231f20" stroke-width="1.38" fill="none" />
<path d="M981.7,305.3 L1026.3,304 L1026.3,272" stroke="#231f20" stroke-width="1.38" fill="none" />
<line x1="981.70" y1="209.60" x2="1028.20" y2="209.60" stroke="#231f20" stroke-width="2.53" />
<line x1="981.70" y1="271.40" x2="1028.20" y2="271.40" stroke="#231f20" stroke-width="2.53" />
<line x1="1027.30" y1="209.00" x2="1027.30" y2="272.00" stroke="#231f20" stroke-width="2.07" />
<path d="M981.7,221.9 L1002,221.9 Q1010,221.9 1010,230 L1010,270.5" stroke="#231f20" stroke-width="1.49" fill="none" />
<rect x="1021.60" y="193.60" width="3.00" height="9.40" rx="1.5" stroke="#231f20" stroke-width="1.15" fill="#d8d8d8" />
<rect x="1021.60" y="278.80" width="3.00" height="9.00" rx="1.5" stroke="#231f20" stroke-width="1.15" fill="#d8d8d8" />
<text class="logo2" x="997.00" y="247.00" font-size="9.3" text-anchor="start" transform="rotate(90 997.00 247.00)" textLength="19.5" lengthAdjust="spacing" >wilo</text>
<path d="M939.5,304.5 L939.5,312.5 Q939.5,313.7 940.8,313.7 L978.4,313.7 Q979.7,313.7 979.7,312.5 L979.7,305" stroke="#231f20" stroke-width="1.49" fill="none" />
<path d="M941,313.7 L942,319.5 M978.3,313.7 L977.3,319.5" stroke="#231f20" stroke-width="1.15" fill="none" />
<line x1="941.50" y1="315.40" x2="978.00" y2="315.40" stroke="#58595b" stroke-width="1.03" />
<line x1="941.80" y1="317.40" x2="977.60" y2="317.40" stroke="#58595b" stroke-width="1.03" />
<rect x="937.30" y="319.80" width="45.30" height="14.20" rx="0" stroke="#231f20" stroke-width="1.61" fill="none" />
<line x1="960.50" y1="320.60" x2="960.50" y2="333.20" stroke="#9fb6bf" stroke-width="1.38" />
<path d="M938.3,334 L938.3,336.6 L981.3,336.6 L981.3,334" stroke="#231f20" stroke-width="1.15" fill="none" />
<rect x="935.60" y="337.80" width="49.10" height="3.50" rx="0" stroke="#231f20" stroke-width="1.38" fill="none" />
<rect x="933.50" y="341.30" width="53.00" height="16.70" rx="0" stroke="#231f20" stroke-width="1.61" fill="none" />
<line x1="961.20" y1="342.00" x2="961.20" y2="357.50" stroke="#231f20" stroke-width="1.03" />
<line x1="940.80" y1="358.00" x2="940.80" y2="370.80" stroke="#231f20" stroke-width="1.49" />
<line x1="979.20" y1="358.00" x2="979.20" y2="370.80" stroke="#231f20" stroke-width="1.49" />
<path d="M918.3,303.3 C908,309 900,315 895.8,320 C888,329 882.5,336 880.5,340 M933.3,305.3 C924,309.5 917,315 912.2,320 C904,328 897,336 893.3,342" stroke="#231f20" stroke-width="1.49" fill="none" />
<path d="M881.8,338.2 Q878.6,342 879.2,346 L880.4,349.3 M893.4,341.6 Q891,344.6 892.4,347.4" stroke="#231f20" stroke-width="2.42" fill="none" />
<path d="M933.3,350.7 C912,352 892,354.3 871.6,356.6 L871.2,358 C863,400 854,440 853.5,473 C853.2,505 858,540 865,564.2 C895,571.5 925,575.3 944,576.2" stroke="#231f20" stroke-width="1.61" fill="none" />
<path d="M986.7,350.2 C1008,351.5 1030,355.5 1049,360 C1058,400 1066.5,440 1066.6,473 C1066.6,505 1062,540 1055.8,564.2 C1025,571.5 995,575.3 976,576.2" stroke="#231f20" stroke-width="1.61" fill="none" />
<path d="M933.3,358.3 C912,359.3 895,361.5 877.5,365 C869,405 862,440 861.8,476 C861.7,505 866,535 872.5,559.2 C895,564 920,568 940,569.3" stroke="#231f20" stroke-width="1.61" fill="none" />
<path d="M979.2,358.6 C1005,359.8 1025,362 1042.5,365.8 C1050.5,405 1058,440 1058.2,473 C1058.2,505 1054,535 1046.7,559.2 C1025,564 1000,568 980,569.3" stroke="#231f20" stroke-width="1.61" fill="none" />
<path d="M874.6,388.8 C869.5,420 864.5,450 864.3,476 C864.3,505 868.3,535 874.6,558.3" stroke="#231f20" stroke-width="1.03" fill="none" />
<path d="M1045.4,388.5 C1050.5,420 1055.6,448 1055.8,473 C1055.8,505 1051.8,535 1044.8,558.3" stroke="#231f20" stroke-width="1.03" fill="none" />
<path d="M861.8,473.5 L864.3,473.5 M1055.8,473.5 L1058.2,473.5" stroke="#231f20" stroke-width="1.03" fill="none" />
<line x1="871.40" y1="356.80" x2="877.50" y2="365.00" stroke="#231f20" stroke-width="1.26" />
<line x1="1049.00" y1="360.00" x2="1042.50" y2="365.80" stroke="#231f20" stroke-width="1.26" />
<line x1="865.00" y1="564.20" x2="872.50" y2="559.20" stroke="#231f20" stroke-width="1.26" />
<line x1="1055.80" y1="564.20" x2="1046.70" y2="559.20" stroke="#231f20" stroke-width="1.26" />
<path d="M904,347.6 L933.3,346.7 M986.7,346.7 L1018,348.2 Q1019.8,348.3 1019.8,350 L1019.8,353.3" stroke="#231f20" stroke-width="1.26" fill="none" />
<line x1="865.10" y1="352.00" x2="873.50" y2="352.00" stroke="#231f20" stroke-width="1.72" />
<rect x="873.50" y="347.40" width="5.80" height="5.40" rx="0" stroke="#231f20" stroke-width="1.26" fill="none" />
<path d="M882,349.5 L891.2,348.7 L901.3,349 L904.2,352.6 M872.8,354.6 L904,352.5 M882.5,351.6 L885.3,351.3 L885.6,353.3 L892.6,352.8 L892.4,350.6" stroke="#231f20" stroke-width="1.26" fill="none" />
<path d="M874.2,389.2 C890,385.5 905,383 922.5,381.8 M997.5,381.8 C1015,383 1030,385.5 1045,388.5" stroke="#231f20" stroke-width="1.38" fill="none" />
<path d="M922.5,381.8 L922.5,443 Q922.5,446.3 926,446.9 Q959.6,452.5 993.5,446.9 Q997.5,446.3 997.5,443 L997.5,381.8" stroke="#231f20" stroke-width="1.38" fill="none" />
<path d="M922.5,394 L932.2,391.5 M997.5,394 L987.5,391.5 M922.5,382 L932.2,382 M987.5,382 L997.5,382" stroke="#231f20" stroke-width="1.15" fill="none" />
<path d="M932.2,441.5 L932.2,370.8 L987.5,370.8 L987.5,441.5" stroke="#231f20" stroke-width="1.49" fill="none" />
<path d="M931.7,390 L932.3,376.2 L935.5,376.2 L936.1,390" stroke="#231f20" stroke-width="1.15" fill="none" />
<path d="M931.9,428 L931.9,441.5 L935.9,441.5 L935.9,428" stroke="#231f20" stroke-width="1.15" fill="none" />
<path d="M944.5,390 L945.1,376.2 L948.3,376.2 L948.9,390" stroke="#231f20" stroke-width="1.15" fill="none" />
<path d="M944.7,428 L944.7,441.5 L948.7,441.5 L948.7,428" stroke="#231f20" stroke-width="1.15" fill="none" />
<path d="M957.5,390 L958.1,376.2 L961.3,376.2 L961.9,390" stroke="#231f20" stroke-width="1.15" fill="none" />
<path d="M957.7,428 L957.7,441.5 L961.7,441.5 L961.7,428" stroke="#231f20" stroke-width="1.15" fill="none" />
<path d="M970.6,390 L971.2,376.2 L974.4,376.2 L975.0,390" stroke="#231f20" stroke-width="1.15" fill="none" />
<path d="M970.8,428 L970.8,441.5 L974.8,441.5 L974.8,428" stroke="#231f20" stroke-width="1.15" fill="none" />
<path d="M983.6,390 L984.2,376.2 L987.4,376.2 L988.0,390" stroke="#231f20" stroke-width="1.15" fill="none" />
<path d="M983.8,428 L983.8,441.5 L987.8,441.5 L987.8,428" stroke="#231f20" stroke-width="1.15" fill="none" />
<circle cx="959.70" cy="409.40" r="27.00" stroke="#231f20" stroke-width="1.49" fill="#fff"/>
<path d="M938.89,390.66 A28.0,28.0 0 0 1 980.51,390.66" stroke="#231f20" stroke-width="1.72" fill="none" />
<path d="M957.26,437.29 A28.0,28.0 0 0 1 934.32,421.23" stroke="#231f20" stroke-width="1.95" fill="none" />
<path d="M985.08,421.23 A28.0,28.0 0 0 1 973.70,433.65" stroke="#231f20" stroke-width="1.38" fill="none" />
<circle cx="959.70" cy="409.40" r="24.50" stroke="#231f20" stroke-width="1.38" fill="none"/>
<circle cx="959.70" cy="409.40" r="19.10" stroke="#231f20" stroke-width="1.49" fill="none"/>
<circle cx="959.70" cy="409.40" r="15.50" stroke="#231f20" stroke-width="1.38" fill="none"/>
<circle cx="959.70" cy="409.40" r="12.00" stroke="#231f20" stroke-width="1.61" fill="none"/>
<rect x="957.90" y="437.50" width="3.60" height="4.00" rx="0" stroke="#231f20" stroke-width="0.92" fill="#231f20" />
<path d="M927.8,568 L927.8,549 A32.3,32.3 0 0 1 992.4,549 L992.4,568" stroke="#231f20" stroke-width="1.38" fill="none" />
<path d="M940,566 L940,547.5 A20,20 0 0 1 980,547.5 L980,566 Q980,569.2 983,569.3 M940,566 Q940,569.2 937,569.3" stroke="#231f20" stroke-width="1.38" fill="none" />
<circle cx="959.80" cy="547.20" r="15.90" stroke="#231f20" stroke-width="1.49" fill="none"/>
<circle cx="959.80" cy="547.20" r="14.30" stroke="#231f20" stroke-width="1.15" fill="none"/>
<path d="M956.8,533 L956.8,577 M962.8,533 L962.8,577" stroke="#231f20" stroke-width="1.26" fill="none" />
<path d="M959.8,534 L959.8,538.5 M959.8,541 L959.8,546.5 M959.8,549 L959.8,563" stroke="#231f20" stroke-width="0.92" fill="none" />
<path d="M945.2,577 L945.2,558.3 Q945.2,556.8 946.0,556.8 M948.4,577 L948.4,558.3 Q948.4,556.8 947.6,556.8" stroke="#231f20" stroke-width="1.84" fill="none" />
<path d="M958.2,577 L958.2,565.5 Q958.2,564 959.0,564 M961.4,577 L961.4,565.5 Q961.4,564 960.6,564" stroke="#231f20" stroke-width="1.84" fill="none" />
<path d="M971.4,577 L971.4,558.3 Q971.4,556.8 972.2,556.8 M974.6,577 L974.6,558.3 Q974.6,556.8 973.8,556.8" stroke="#231f20" stroke-width="1.84" fill="none" />
<path d="M949.5,567.5 Q953,569.3 956.5,569.4 M963,569.4 Q966.5,569.3 970.3,567.5" stroke="#231f20" stroke-width="1.03" fill="none" />
<path d="M871.7,566 L871.7,577.6 L922.5,577.6" stroke="#231f20" stroke-width="1.38" fill="none" />
<path d="M1048.3,566 L1048.3,577.6" stroke="#231f20" stroke-width="1.38" fill="none" />
<line x1="944.00" y1="577.60" x2="976.00" y2="577.60" stroke="#231f20" stroke-width="1.38" />
<line x1="277.50" y1="149.30" x2="277.50" y2="189.60" stroke="#231f20" stroke-width="1.26" />
<path d="M277.50,196.80 L277.50,225.80 M277.50,231.50 L277.50,238.30 M277.50,244.10 L277.50,273.10 M277.50,278.80 L277.50,285.60 M277.50,291.40 L277.50,320.40 M277.50,326.10 L277.50,332.90 M277.50,338.70 L277.50,367.70 M277.50,373.40 L277.50,380.20 M277.50,386.00 L277.50,415.00 M277.50,420.70 L277.50,427.50 M277.50,433.30 L277.50,462.30 M277.50,468.00 L277.50,474.80 M277.50,480.60 L277.50,509.60 M277.50,515.30 L277.50,522.10 M277.50,527.90 L277.50,556.90 M277.50,562.60 L277.50,569.40" stroke="#231f20" stroke-width="1.26" fill="none" />
<line x1="277.50" y1="575.00" x2="277.50" y2="638.80" stroke="#231f20" stroke-width="1.38" />
<path d="M959.40,155.00 L959.40,161.30 M959.40,167.10 L959.40,196.10 M959.40,201.80 L959.40,208.60 M959.40,214.40 L959.40,243.40 M959.40,249.10 L959.40,255.90 M959.40,261.70 L959.40,290.70 M959.40,296.40 L959.40,303.20 M959.40,309.00 L959.40,338.00 M959.40,343.70 L959.40,350.50 M959.40,356.30 L959.40,385.30 M959.40,391.00 L959.40,397.00" stroke="#231f20" stroke-width="1.26" fill="none" />
<line x1="959.40" y1="404.00" x2="959.40" y2="480.80" stroke="#231f20" stroke-width="1.26" />
<line x1="959.40" y1="486.70" x2="959.40" y2="492.60" stroke="#231f20" stroke-width="1.26" />
<line x1="959.40" y1="499.00" x2="959.40" y2="527.50" stroke="#231f20" stroke-width="1.26" />
<line x1="959.40" y1="123.00" x2="959.40" y2="155.00" stroke="#231f20" stroke-width="1.38" />
<text class="t" transform="translate(558.81 62.90) scale(0.98 1)" font-size="25.3" letter-spacing="1.72" stroke="#231f20" stroke-width="0.35">1500mm</text>
<text class="t" transform="translate(54.40 300.73) rotate(-90) scale(0.93 1)" font-size="25.3" letter-spacing="1.80" stroke="#231f20" stroke-width="0.35">223</text>
<text class="t" transform="translate(54.40 514.93) rotate(-90) scale(0.93 1)" font-size="25.3" letter-spacing="2.75" stroke="#231f20" stroke-width="0.35">147</text>
<text class="t" transform="translate(101.90 372.12) rotate(-90) scale(0.93 1)" font-size="25.3" letter-spacing="-0.42" stroke="#231f20" stroke-width="0.35">G 1</text>
<text class="t" transform="translate(146.72 470.10) scale(0.93 1)" font-size="25.3" letter-spacing="3.58" stroke="#231f20" stroke-width="0.35">31</text>
<text class="t" transform="translate(139.52 519.50) scale(0.93 1)" font-size="25.3" letter-spacing="2.98" stroke="#231f20" stroke-width="0.35">46</text>
<text class="t" transform="translate(211.43 621.10) scale(0.93 1)" font-size="25.3" letter-spacing="4.21" stroke="#231f20" stroke-width="0.35">87</text>
<text class="t" transform="translate(319.70 668.00) scale(0.93 1)" font-size="25.3" letter-spacing="2.30" stroke="#231f20" stroke-width="0.35">252</text>
<text class="t" transform="translate(386.76 713.60) scale(0.93 1)" font-size="25.3" letter-spacing="2.37" stroke="#231f20" stroke-width="0.35">397</text>
<text class="t" transform="translate(523.96 624.50) scale(0.93 1)" font-size="25.3" letter-spacing="3.22" stroke="#231f20" stroke-width="0.35">10</text>
<text class="t" transform="translate(609.40 612.86) rotate(-90) scale(0.93 1)" font-size="25.3" letter-spacing="0.00" stroke="#231f20" stroke-width="0.35">7</text>
<text class="t" transform="translate(997.22 89.40) scale(0.93 1)" font-size="25.3" letter-spacing="0.00" stroke="#231f20" stroke-width="0.35">G 1</text>
<text class="t" transform="translate(981.67 125.60) scale(0.93 1)" font-size="25.3" letter-spacing="4.12" stroke="#231f20" stroke-width="0.35">10</text>
<text class="t" transform="translate(1106.40 389.18) rotate(-90) scale(0.93 1)" font-size="25.3" letter-spacing="1.76" stroke="#231f20" stroke-width="0.35">370</text>
<text class="t" transform="translate(927.65 624.50) scale(0.93 1)" font-size="25.3" letter-spacing="2.54" stroke="#231f20" stroke-width="0.35">114,5</text>
<text class="t" transform="translate(927.65 669.70) scale(0.93 1)" font-size="25.3" letter-spacing="2.05" stroke="#231f20" stroke-width="0.35">129,1</text>
<text class="t" transform="translate(938.67 714.90) scale(0.93 1)" font-size="25.3" letter-spacing="2.87" stroke="#231f20" stroke-width="0.35">187</text>
<text class="t" transform="translate(922.38 760.00) scale(0.93 1)" font-size="25.3" letter-spacing="2.35" stroke="#231f20" stroke-width="0.35">210</text>
<g role="img" aria-label="G 3/8">
<text class="t" transform="translate(176.50 340.90) scale(0.89 1)" font-size="25.3" stroke="#231f20" stroke-width="0.35">G</text>
<text class="t" transform="translate(196.10 330.90) scale(0.93 1)" font-size="17.8" stroke="#231f20" stroke-width="0.35">3</text>
<text class="t" transform="translate(204.40 341.60) skewX(-9.5) scale(0.75 1.3)" font-size="25.3" stroke="#231f20" stroke-width="0.45">/</text>
<text class="t" transform="translate(212.50 340.90) scale(0.93 1)" font-size="17.8" stroke="#231f20" stroke-width="0.35">8</text>
</g>
<g role="img" aria-label="G 3/8">
<text class="t" transform="translate(88.20 612.60) scale(0.89 1)" font-size="25.3" stroke="#231f20" stroke-width="0.35">G</text>
<text class="t" transform="translate(107.80 602.60) scale(0.93 1)" font-size="17.8" stroke="#231f20" stroke-width="0.35">3</text>
<text class="t" transform="translate(116.10 613.30) skewX(-9.5) scale(0.75 1.3)" font-size="25.3" stroke="#231f20" stroke-width="0.45">/</text>
<text class="t" transform="translate(124.20 612.60) scale(0.93 1)" font-size="17.8" stroke="#231f20" stroke-width="0.35">8</text>
</g>
</svg>
</body>
</html>
